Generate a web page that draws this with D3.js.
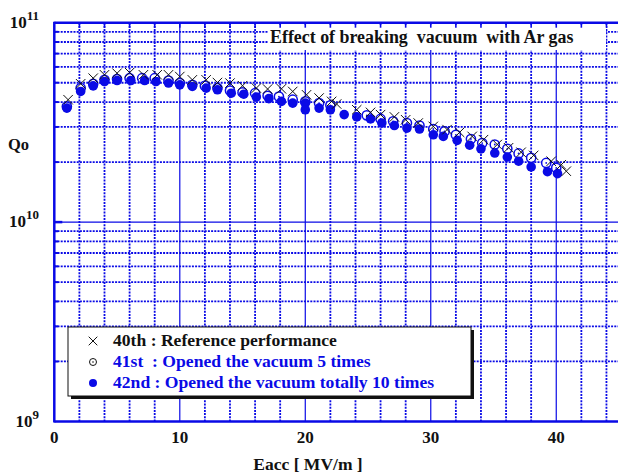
<!DOCTYPE html>
<html><head><meta charset="utf-8">
<script src="https://cdn.jsdelivr.net/npm/d3@7"></script>
<style>
body{margin:0;background:#fff;}
text{font-family:"Liberation Serif","Times New Roman",serif;font-weight:bold;}
</style></head>
<body><svg id="c" width="618" height="473"></svg>
<script>
// 40th : Reference performance (x marks)
const e40 = [1.1,2.1,3.1,4.0,5.0,6.0,7.1,8.2,9.1,10.0,11.0,12.1,13.0,14.0,15.0,16.1,17.0,18.1,19.0,20.1,21.1,22.1,22.5,24.1,25.2,26.0,27.1,28.0,29.0,30.2,31.3,32.3,33.3,34.2,35.3,36.2,37.2,38.2,39.6,40.4,40.8];
const q40 = [4.11e10,4.94e10,5.27e10,5.48e10,5.58e10,5.62e10,5.48e10,5.48e10,5.48e10,5.37e10,5.17e10,5.17e10,5.01e10,4.98e10,4.83e10,4.70e10,4.65e10,4.66e10,4.52e10,4.35e10,4.19e10,4.03e10,3.91e10,3.66e10,3.55e10,3.46e10,3.37e10,3.26e10,3.14e10,3.02e10,2.91e10,2.82e10,2.69e10,2.59e10,2.45e10,2.36e10,2.24e10,2.16e10,2.02e10,1.94e10,1.80e10];
// 41st : Opened the vacuum 5 times (open circles)
const e41 = [1.0,2.1,3.1,4.0,5.0,6.0,7.0,8.0,9.1,10.0,11.0,12.0,13.0,14.0,15.0,16.0,17.0,17.9,19.0,20.0,21.1,22.0,24.9,26.0,27.0,28.1,29.1,30.2,31.1,32.0,33.2,34.1,35.1,36.1,37.0,38.0,39.2,40.0];
const q41 = [3.80e10,4.70e10,4.94e10,5.17e10,5.22e10,5.27e10,5.27e10,5.27e10,5.13e10,4.98e10,4.88e10,4.82e10,4.70e10,4.57e10,4.47e10,4.43e10,4.30e10,4.26e10,4.11e10,4.03e10,3.95e10,3.85e10,3.43e10,3.29e10,3.20e10,3.14e10,3.05e10,2.93e10,2.85e10,2.74e10,2.61e10,2.49e10,2.45e10,2.33e10,2.21e10,2.10e10,1.98e10,1.87e10];
// 42nd : Opened the vacuum totally 10 times (filled circles)
const e42 = [1.0,2.1,3.1,4.0,5.0,6.1,7.2,8.1,9.1,10.0,11.0,12.1,13.0,14.1,15.1,16.1,17.1,18.1,19.0,20.0,20.0,21.1,22.0,23.1,24.1,25.2,26.1,27.1,28.1,29.1,30.2,31.0,32.1,33.1,34.0,35.1,36.1,37.0,38.0,39.3,40.1];
const q42 = [3.73e10,4.52e10,4.82e10,5.07e10,5.13e10,5.13e10,5.13e10,5.07e10,4.98e10,4.88e10,4.79e10,4.70e10,4.61e10,4.43e10,4.38e10,4.24e10,4.16e10,4.03e10,3.95e10,3.95e10,3.66e10,3.73e10,3.66e10,3.46e10,3.37e10,3.29e10,3.14e10,3.05e10,2.96e10,2.93e10,2.74e10,2.69e10,2.57e10,2.43e10,2.33e10,2.22e10,2.12e10,2.02e10,1.89e10,1.79e10,1.75e10];

const xTickLabels = [0,10,20,30,40];
const yDecades = [1e9,1e10,1e11];
const legendLabels = ["40th : Reference performance","41st  : Opened the vacuum 5 times","42nd : Opened the vacuum totally 10 times"];
const titleText = "Effect of breaking  vacuum  with Ar gas";
const xLabel = "Eacc [ MV/m ]";
const yLabel = "Qo";

const BLUE = "#0a0ae6";
const FONT = "'Liberation Serif','Times New Roman',serif";
const svg = d3.select("#c");
const L = 54.3, R = 619, T = 22.7, B = 421.5;
const x = d3.scaleLinear().domain([0,45]).range([L,R]);
const y = d3.scaleLog().domain([1e9,1e11]).range([B,T]);

const g = svg.append("g");
// vertical grid
const xMinor = d3.range(2,45,2).filter(v=>v%10!==0);
g.selectAll(".vm").data(xMinor).join("line")
  .attr("x1",d=>x(d)).attr("x2",d=>x(d)).attr("y1",T).attr("y2",B)
  .attr("stroke",BLUE).attr("stroke-width",1.8).attr("stroke-dasharray","2,1.2");
g.selectAll(".vM").data([10,20,30,40]).join("line")
  .attr("x1",d=>x(d)).attr("x2",d=>x(d)).attr("y1",T).attr("y2",B)
  .attr("stroke",BLUE).attr("stroke-width",1.2);
// horizontal grid
const yMinor = y.ticks().filter(v=>{const m=v/Math.pow(10,Math.floor(Math.log10(v)+1e-9));return Math.abs(m-1)>1e-6;});
g.selectAll(".hm").data(yMinor).join("line")
  .attr("x1",L).attr("x2",R).attr("y1",d=>y(d)).attr("y2",d=>y(d))
  .attr("stroke",BLUE).attr("stroke-width",1.8).attr("stroke-dasharray","2,1.2");
g.append("line").attr("x1",L).attr("x2",R).attr("y1",y(1e10)).attr("y2",y(1e10))
  .attr("stroke",BLUE).attr("stroke-width",1.2);

// title box
svg.append("rect").attr("x",268).attr("y",25).attr("width",338).attr("height",25).attr("fill","#fff");
svg.append("text").attr("x",270).attr("y",43).attr("font-family",FONT).attr("font-weight","bold").attr("font-size",17.9).attr("fill","#111")
  .attr("xml:space","preserve").style("white-space","pre").text(titleText);

// frame
svg.append("line").attr("x1",L).attr("x2",R).attr("y1",T).attr("y2",T).attr("stroke",BLUE).attr("stroke-width",2.5);
svg.append("line").attr("x1",L).attr("x2",L).attr("y1",T-1).attr("y2",B+1).attr("stroke",BLUE).attr("stroke-width",2.5);
svg.append("line").attr("x1",L).attr("x2",R).attr("y1",B).attr("y2",B).attr("stroke",BLUE).attr("stroke-width",2.5);
// top ticks
svg.selectAll(".tt").data(d3.range(2,45,2)).join("line")
  .attr("x1",d=>x(d)).attr("x2",d=>x(d)).attr("y1",T).attr("y2",T+5)
  .attr("stroke",BLUE).attr("stroke-width",1.6);
// left ticks
svg.selectAll(".lt").data(yMinor).join("line")
  .attr("x1",L).attr("x2",L+4).attr("y1",d=>y(d)).attr("y2",d=>y(d))
  .attr("stroke",BLUE).attr("stroke-width",2);
svg.append("line").attr("x1",L).attr("x2",L+8).attr("y1",y(1e10)).attr("y2",y(1e10)).attr("stroke",BLUE).attr("stroke-width",2.5);

// x tick labels
svg.selectAll(".xl").data(xTickLabels).join("text")
  .attr("x",d=>x(d)).attr("y",443).attr("text-anchor","middle").attr("font-family",FONT).attr("font-weight","bold").attr("font-size",17).attr("fill","#111").text(d=>d);
// y decade labels
const yl = svg.selectAll(".yl").data(yDecades).join("text")
  .attr("x",39).attr("y",d=>y(d)+5).attr("text-anchor","end").attr("font-family",FONT).attr("font-weight","bold").attr("font-size",17).attr("fill","#111");
yl.append("tspan").text("10");
yl.append("tspan").attr("dy",-8).attr("font-size",13).text(d=>Math.round(Math.log10(d)));
// axis labels
svg.append("text").attr("x",308).attr("y",470).attr("text-anchor","middle").attr("font-family",FONT).attr("font-weight","bold").attr("font-size",17.5).attr("fill","#111").text(xLabel);
svg.append("text").attr("x",8).attr("y",150).attr("font-family",FONT).attr("font-weight","bold").attr("font-size",16.5).attr("fill","#111").text(yLabel);

// data
const d41 = e41.map((e,i)=>[e,q41[i]]);
const d42 = e42.map((e,i)=>[e,q42[i]]);
const d40 = e40.map((e,i)=>[e,q40[i]]);
const o = svg.append("g").selectAll("g").data(d41).join("g").attr("transform",d=>`translate(${x(d[0])},${y(d[1])})`);
o.append("circle").attr("r",4.6).attr("fill","#fff").attr("stroke",BLUE).attr("stroke-width",1.5);
o.append("circle").attr("r",0.9).attr("fill",BLUE);
svg.append("g").selectAll("circle").data(d42).join("circle")
  .attr("cx",d=>x(d[0])).attr("cy",d=>y(d[1])).attr("r",4.8).attr("fill",BLUE);
const sym = d3.symbol().type(d3.symbolX).size(60);
svg.append("g").selectAll("path").data(d40).join("path")
  .attr("transform",d=>`translate(${x(d[0])},${y(d[1])})`).attr("d",sym)
  .attr("fill","none").attr("stroke","#111").attr("stroke-width",1);

// legend
const lg = svg.append("g");
lg.append("rect").attr("x",71).attr("y",330).attr("width",403).attr("height",69).attr("fill","#111");
lg.append("rect").attr("x",68).attr("y",327).attr("width",403).attr("height",69).attr("fill","#fff").attr("stroke","#111").attr("stroke-width",1);
const rowsY = [341,362,383];
lg.append("path").attr("d",d3.symbol().type(d3.symbolX).size(50)()).attr("transform",`translate(93,${rowsY[0]})`).attr("fill","none").attr("stroke","#111").attr("stroke-width",1);
lg.append("circle").attr("cx",93).attr("cy",rowsY[1]).attr("r",3.5).attr("fill","#fff").attr("stroke","#111").attr("stroke-width",1);
lg.append("circle").attr("cx",93).attr("cy",rowsY[1]).attr("r",0.8).attr("fill","#111");
lg.append("circle").attr("cx",93).attr("cy",rowsY[2]).attr("r",4).attr("fill",BLUE);
lg.selectAll("text").data(legendLabels).join("text")
  .attr("x",113).attr("y",(d,i)=>rowsY[i]+5).attr("font-family",FONT).attr("font-weight","bold").attr("font-size",17.6)
  .attr("fill",(d,i)=>i===0?"#111":BLUE).attr("xml:space","preserve").style("white-space","pre").text(d=>d);
</script></body></html>
